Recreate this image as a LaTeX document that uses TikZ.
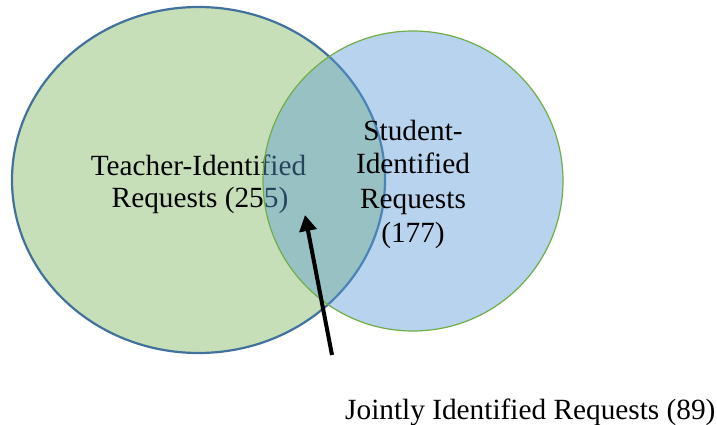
\documentclass[tikz,border=0pt]{standalone}
\usepackage{fontspec}
\setmainfont{Liberation Serif}
\usetikzlibrary{arrows.meta,shapes.geometric}
\definecolor{vgreen}{HTML}{70AD47}
\definecolor{vblue}{HTML}{5B9BD5}
\definecolor{vdblue}{HTML}{41719C}
\begin{document}
\begin{tikzpicture}[x=1pt,y=1pt,
  lbl/.style={font=\fontsize{29.3}{33}\selectfont, inner sep=0pt, anchor=base},
  setshape/.style={ellipse, inner sep=0pt}]
\useasboundingbox (0,0) rectangle (717,424);
\node[setshape, minimum width=373pt, minimum height=346pt,
      fill=vgreen, fill opacity=0.39, draw=vdblue, line width=2.2pt] (teacher) at (198.5,244) {};
\node[lbl] (t1) at (198.5,249) {Teacher-Identified};
\node[lbl] (t2) at (200,217) {Requests (255)};
\node[setshape, minimum width=300pt, minimum height=300pt,
      fill=vblue, fill opacity=0.44, draw=vgreen, line width=1.2pt] (student) at (413,243) {};
\node[lbl] (s1) at (413,284) {Student-};
\node[lbl] (s2) at (413,251) {Identified};
\node[lbl] (s3) at (413,216) {Requests};
\node[lbl] (s4) at (413,182) {(177)};
\node[lbl, anchor=base west] (joint) at (345,5) {Jointly Identified Requests (89)};
\coordinate (tail) at (332,69);
\coordinate (tip) at (305,209);
\draw[line width=4pt, -{Triangle[width=17pt,length=16pt]}] (tail) -- (tip);
\end{tikzpicture}
\end{document}
